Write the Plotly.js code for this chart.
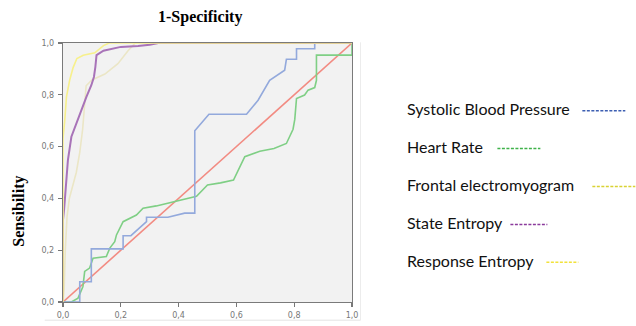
<!DOCTYPE html>
<html>
<head>
<meta charset="utf-8">
<script src="https://cdn.plot.ly/plotly-3.0.1.min.js"></script>
<style>html,body{margin:0;padding:0;background:#fff;}#chart{width:636px;height:326px;}</style>
</head>
<body>
<div id="chart"></div>
<script>
// ---- data ----
const sbpX = [0, 0.058, 0.058, 0.098, 0.098, 0.208, 0.208, 0.235, 0.289, 0.289, 0.363, 0.421, 0.456, 0.456, 0.505, 0.635, 0.675, 0.715, 0.767, 0.773, 0.808, 0.808, 0.871, 0.871, 1];
const sbpY = [0, 0, 0.078, 0.078, 0.205, 0.205, 0.256, 0.256, 0.31, 0.327, 0.327, 0.343, 0.343, 0.661, 0.725, 0.725, 0.779, 0.856, 0.895, 0.937, 0.937, 0.978, 0.978, 1, 1];

const hrX = [0, 0.029, 0.052, 0.069, 0.075, 0.092, 0.104, 0.150, 0.162, 0.179, 0.185, 0.208, 0.254, 0.277, 0.323, 0.415, 0.462, 0.50, 0.545, 0.59, 0.629, 0.681, 0.73, 0.773, 0.796, 0.802, 0.808, 0.836, 0.848, 0.871, 0.877, 0.877, 1, 1];
const hrY = [0, 0, 0.015, 0.06, 0.118, 0.131, 0.169, 0.176, 0.208, 0.233, 0.259, 0.31, 0.336, 0.362, 0.371, 0.394, 0.408, 0.452, 0.46, 0.471, 0.561, 0.582, 0.593, 0.612, 0.667, 0.705, 0.786, 0.799, 0.818, 0.828, 0.856, 0.953, 0.953, 1];

const emgX = [0, 0.004, 0.008, 0.014, 0.022, 0.032, 0.046, 0.058, 0.068, 0.08, 0.1, 0.145, 0.19, 0.225, 0.25, 1];
const emgY = [0, 0.05, 0.2, 0.33, 0.4, 0.44, 0.5, 0.578, 0.667, 0.835, 0.857, 0.88, 0.92, 0.97, 1, 1];

const seX = [0, 0, 0.004, 0.008, 0.017, 0.029, 0.046, 0.064, 0.081, 0.098, 0.107, 0.112, 0.116, 0.14, 0.17, 0.2, 0.26, 0.3, 0.33, 1];
const seY = [0, 0.317, 0.36, 0.42, 0.548, 0.638, 0.69, 0.747, 0.792, 0.837, 0.869, 0.908, 0.953, 0.97, 0.978, 0.985, 0.988, 0.993, 1, 1];

const reX = [0, 0, 0.006, 0.012, 0.023, 0.035, 0.048, 0.07, 0.11, 0.125, 0.14, 0.16, 1];
const reY = [0, 0.632, 0.7, 0.792, 0.856, 0.905, 0.94, 0.953, 0.962, 0.978, 0.99, 1, 1];

const refX = [0, 1];
const refY = [0, 1];

const tickVals = [0, 0.2, 0.4, 0.6, 0.8, 1.0];
const tickText = ["0,0", "0,2", "0,4", "0,6", "0,8", "1,0"];

const legendNames = ["Systolic Blood Pressure", "Heart Rate", "Frontal electromyogram", "State Entropy", "Response Entropy"];

// ---- styling ----
const W = 636, H = 326;
const L = 63.3, R = 352.5, T = 42.7, B = 302.3;
const px2x = p => (p - L) / (R - L);
const px2y = p => (B - p) / (B - T);

const traces = [
  {x: refX, y: refY, color: '#f28b82', w: 1.6},
  {x: emgX, y: emgY, color: '#ebe6c6', w: 1.6},
  {x: hrX, y: hrY, color: '#7fcf85', w: 1.6},
  {x: sbpX, y: sbpY, color: '#93a9dc', w: 1.6},
  {x: seX, y: seY, color: '#a873b8', w: 2.0},
  {x: reX, y: reY, color: '#f7f08c', w: 1.6}
].map(t => ({
  x: t.x, y: t.y, type: 'scatter', mode: 'lines',
  line: {color: t.color, width: t.w}, hoverinfo: 'skip', showlegend: false, cliponaxis: true
}));

const legendRows = [
  {cy: 108.5, x0: 583, x1: 626, color: '#3d5fb2'},
  {cy: 146.5, x0: 498, x1: 541, color: '#3fb24a'},
  {cy: 184.5, x0: 593, x1: 636, color: '#d9d233'},
  {cy: 222.5, x0: 511, x1: 548, color: '#8b3b9c'},
  {cy: 260.5, x0: 547, x1: 579, color: '#f2e23a'}
];

const annotations = [
  {text: '<b>1-Specificity</b>', xref: 'paper', yref: 'paper', x: px2x(200), y: px2y(17),
   xanchor: 'center', yanchor: 'middle', showarrow: false,
   font: {family: 'Liberation Serif', size: 16, color: '#000'}},
  {text: '<b>Sensibility</b>', xref: 'paper', yref: 'paper', x: px2x(19), y: px2y(211),
   xanchor: 'center', yanchor: 'middle', showarrow: false, textangle: -90,
   font: {family: 'Liberation Serif', size: 16, color: '#000'}}
];
const shapes = [
  // faint outer frame of the figure
  {type: 'line', xref: 'paper', yref: 'paper', x0: px2x(45), x1: px2x(361), y0: px2y(320.5), y1: px2y(320.5),
   line: {color: '#e3e3e3', width: 1}},
  {type: 'line', xref: 'paper', yref: 'paper', x0: px2x(361), x1: px2x(361), y0: px2y(42), y1: px2y(320.5),
   line: {color: '#ececec', width: 1}}
];
legendRows.forEach((r, i) => {
  annotations.push({text: legendNames[i], xref: 'paper', yref: 'paper', x: px2x(406), y: px2y(r.cy),
    xanchor: 'left', yanchor: 'middle', showarrow: false,
    font: {family: 'Lato', size: 16, color: '#111'}});
  shapes.push({type: 'line', xref: 'paper', yref: 'paper', x0: px2x(r.x0), x1: px2x(r.x1),
    y0: px2y(r.cy + 2), y1: px2y(r.cy + 2), line: {color: r.color, width: 1.5, dash: '3px,1.5px'}});
});

const axisCommon = {
  range: [0, 1], tickvals: tickVals, ticktext: tickText, showgrid: false, zeroline: false,
  showline: true, linecolor: '#7a7a7a', linewidth: 1.2, mirror: true,
  ticks: 'outside', ticklen: 4, tickcolor: '#777', tickwidth: 1.2,
  tickfont: {family: 'DejaVu Sans', size: 8, color: '#777'}, fixedrange: true
};

const layout = {
  width: W, height: H,
  margin: {l: L, r: W - R, t: T, b: H - B, pad: 0},
  paper_bgcolor: '#ffffff', plot_bgcolor: '#f2f2f2',
  xaxis: Object.assign({}, axisCommon, {ticklabelstandoff: 1}),
  yaxis: Object.assign({}, axisCommon, {ticklabelstandoff: 2}),
  showlegend: false,
  annotations: annotations,
  shapes: shapes
};

Plotly.newPlot('chart', traces, layout, {staticPlot: true, displayModeBar: false});
</script>
</body>
</html>
